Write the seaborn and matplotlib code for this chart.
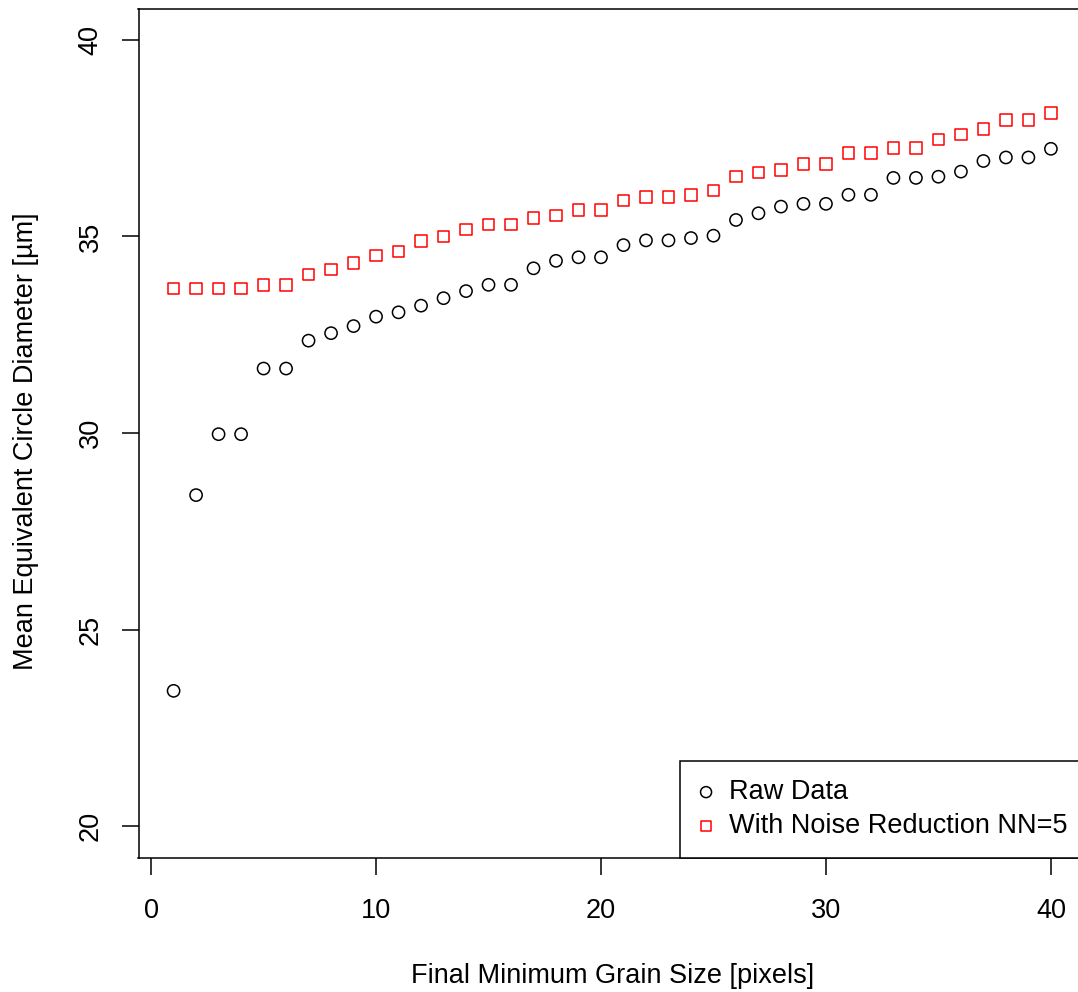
import matplotlib
matplotlib.use("Agg")
import matplotlib.pyplot as plt
import seaborn as sns
import pandas as pd

# ---- data ----
grain_size = list(range(1, 41))
raw_data = [23.44, 28.42, 29.97, 29.97, 31.64, 31.64, 32.35, 32.54, 32.72, 32.96,
            33.07, 33.24, 33.43, 33.61, 33.77, 33.77, 34.19, 34.38, 34.47, 34.47,
            34.78, 34.90, 34.90, 34.96, 35.02, 35.42, 35.59, 35.76, 35.83, 35.83,
            36.06, 36.06, 36.49, 36.49, 36.52, 36.65, 36.92, 37.01, 37.01, 37.23]
noise_reduced = [33.68, 33.68, 33.68, 33.68, 33.76, 33.76, 34.03, 34.16, 34.33, 34.52,
                 34.62, 34.88, 35.00, 35.18, 35.31, 35.31, 35.47, 35.53, 35.67, 35.67,
                 35.92, 36.00, 36.00, 36.06, 36.17, 36.53, 36.63, 36.69, 36.84, 36.84,
                 37.13, 37.13, 37.25, 37.25, 37.47, 37.60, 37.74, 37.96, 37.96, 38.14]
series_labels = ["Raw Data", "With Noise Reduction NN=5"]
x_ticks = [0, 10, 20, 30, 40]
y_ticks = [20, 25, 30, 35, 40]
x_label = "Final Minimum Grain Size [pixels]"
y_label = "Mean Equivalent Circle Diameter [µm]"

sns.set_style("white")
plt.rcParams["font.family"] = ["Liberation Sans", "DejaVu Sans"]
plt.rcParams["font.size"] = 19.5
plt.rcParams["text.color"] = "black"
plt.rcParams["axes.labelcolor"] = "black"
plt.rcParams["xtick.color"] = "black"
plt.rcParams["ytick.color"] = "black"

FS = 19.5

df_raw = pd.DataFrame({"x": grain_size, "y": raw_data})
df_nr = pd.DataFrame({"x": grain_size, "y": noise_reduced})

W, H = 1078, 992
fig = plt.figure(figsize=(W / 100, H / 100), dpi=100)
left, right, top, bottom = 138.5, 1086.0, 8.5, 857.5
ax = fig.add_axes([left / W, (H - bottom) / H, (right - left) / W, (bottom - top) / H])

sns.scatterplot(data=df_raw, x="x", y="y", ax=ax, marker="o", s=8.8 ** 2,
                color="black", facecolor="none", edgecolor="black",
                linewidth=1.1, label=series_labels[0], legend=False)
sns.scatterplot(data=df_nr, x="x", y="y", ax=ax, marker="s", s=8.3 ** 2,
                color="red", facecolor="none", edgecolor="#ff0000",
                linewidth=1.1, label=series_labels[1], legend=False)

ax.set_xlim(-0.56, 41.56)
ax.set_ylim(19.2, 40.8)
ax.set_xticks(x_ticks)
ax.set_yticks(y_ticks)
ax.set_xticklabels([str(v) for v in x_ticks])
ax.set_yticklabels([str(v) for v in y_ticks], rotation=90, va="center")

for sp in ax.spines.values():
    sp.set_visible(True)
    sp.set_color("black")
    sp.set_linewidth(1.1)

ax.tick_params(axis="both", which="major", direction="out", length=12, width=1.1,
               colors="black", labelsize=FS, bottom=True, left=True,
               top=False, right=False)
ax.tick_params(axis="x", pad=17.3)
ax.tick_params(axis="y", pad=13.2)

ax.set_xlabel(x_label, fontsize=FS, color="black")
ax.set_ylabel(y_label, fontsize=FS, color="black")
ax.xaxis.set_label_coords(0.5, -(963 - bottom) / (bottom - top))
ax.yaxis.set_label_coords(-(left - 38.7) / (right - left), (bottom - 441.5) / (bottom - top))

leg = ax.legend(loc="lower right", bbox_to_anchor=(1.0, 0.0), borderaxespad=0,
                fontsize=FS, frameon=True, fancybox=False, framealpha=1,
                edgecolor="black", borderpad=0.68, labelspacing=0.29,
                handlelength=0.6, handletextpad=0.55, markerscale=0.9)
leg.get_frame().set_linewidth(1.1)
for t in leg.get_texts():
    t.set_color("black")

fig.savefig("out.png", dpi=100)
